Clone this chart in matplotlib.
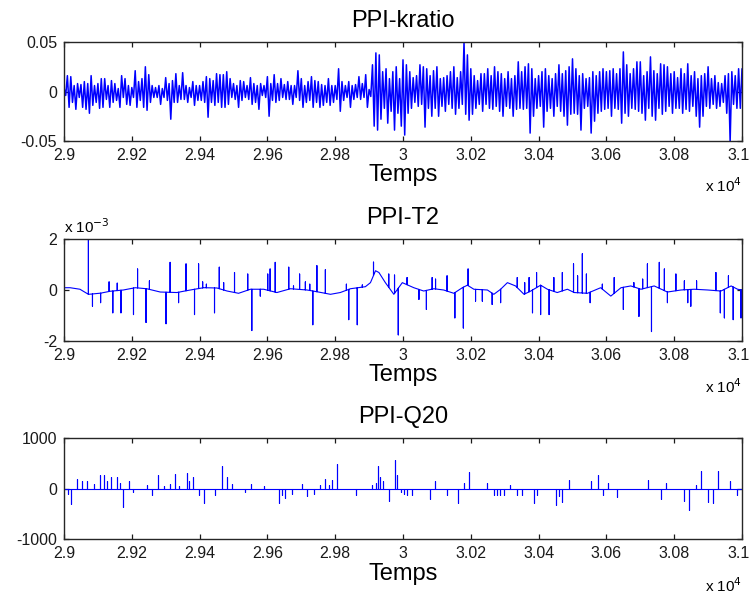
"""
Three stacked MATLAB-style signal panels: PPI-kratio, PPI-T2 and PPI-Q20.
"""

import matplotlib
matplotlib.use("Agg")
import matplotlib.pyplot as plt
import matplotlib.ticker as mticker
import matplotlib.transforms as mtransforms
import numpy as np

plt.rcParams["font.family"] = ["Liberation Sans", "DejaVu Sans"]

T_START, T_END = 29000, 31000

# --- PPI-kratio: per-10-sample high/low excursions (units of 1e-3) ---
kratio_step = 10
kratio_hi = [
    4, 16, 15, 6, 8, 7, 10, 8, 16, 6,
    8, 13, 13, 6, 11, 8, 3, 16, 13, 6,
    4, 21, 10, 13, 25, 17, 6, 4, 6, 3,
    14, 8, 11, 18, 6, 19, 6, 4, 10, 6,
    6, 10, 15, 13, 11, 18, 17, 17, 20, 13,
    8, 6, 11, 10, 6, 14, 8, 6, 8, 6,
    15, 8, 17, 8, 13, 7, 10, 6, 6, 21,
    13, 6, 10, 15, 11, 10, 7, 6, 13, 6,
    6, 23, 10, 6, 10, 6, 7, 15, 8, 17,
    2, 27, 39, 37, 20, 23, 13, 20, 25, 13,
    32, 27, 20, 14, 16, 27, 25, 23, 16, 21,
    25, 13, 14, 16, 20, 25, 14, 20, 50, 37,
    23, 16, 11, 18, 18, 23, 16, 25, 20, 18,
    13, 20, 13, 16, 30, 20, 25, 28, 23, 13,
    16, 20, 23, 16, 13, 18, 27, 18, 21, 25,
    33, 23, 16, 18, 13, 14, 20, 16, 20, 23,
    20, 21, 23, 18, 23, 40, 27, 18, 23, 30,
    30, 16, 20, 35, 21, 18, 28, 27, 25, 18,
    20, 14, 23, 18, 28, 16, 20, 13, 16, 18,
    25, 13, 16, 9, 8, 16, 18, 20, 16, 23,
    23,
]
kratio_lo = [
    -4, -16, -11, -18, -6, -16, -18, -22, -14, -11,
    -17, -16, -8, -16, -11, -9, -16, -6, -13, -14,
    -6, -16, -9, -16, -19, -11, -6, -6, -13, -6,
    -9, -28, -11, -11, -8, -8, -11, -6, -14, -9,
    -9, -11, -26, -11, -14, -11, -16, -16, -13, -6,
    -8, -16, -9, -6, -8, -13, -11, -18, -4, -6,
    -25, -9, -11, -9, -6, -8, -8, -13, -6, -9,
    -16, -11, -9, -16, -11, -16, -14, -11, -14, -11,
    -8, -20, -9, -6, -16, -8, -6, -8, -6, -16,
    -5, -35, -39, -28, -17, -32, -20, -39, -22, -35,
    -44, -22, -17, -11, -15, -13, -36, -17, -25, -17,
    -25, -15, -20, -13, -17, -23, -17, -13, -23, -29,
    -23, -17, -13, -20, -13, -17, -18, -15, -20, -25,
    -15, -17, -25, -18, -17, -18, -17, -42, -25, -17,
    -15, -36, -20, -17, -25, -15, -20, -25, -34, -23,
    -22, -23, -39, -17, -15, -42, -30, -22, -20, -18,
    -17, -25, -17, -18, -32, -22, -25, -17, -18, -20,
    -22, -29, -17, -25, -29, -17, -23, -20, -15, -22,
    -17, -17, -22, -18, -20, -15, -25, -36, -25, -15,
    -17, -13, -17, -15, -11, -22, -51, -13, -17, -17,
    -6,
]

# --- PPI-T2 (units of 1e-3): slow baseline plus spikes ---
t2_base_t = [29000, 29018, 29047, 29072, 29106, 29136, 29175, 29210, 29244,
             29284, 29333, 29372, 29412, 29451, 29481, 29515, 29550, 29589,
             29628, 29668, 29717, 29751, 29786, 29815, 29845, 29889, 29904,
             29919, 29929, 29948, 29973, 29998, 30032, 30061, 30091, 30120,
             30150, 30175, 30190, 30209, 30249, 30268, 30288, 30308, 30332,
             30357, 30377, 30406, 30426, 30455, 30485, 30505, 30544, 30583,
             30613, 30643, 30672, 30702, 30741, 30780, 30820, 30859, 30899,
             30938, 30968, 30987, 31000]
t2_base_v = [0.09, 0.09, 0.03, -0.17, -0.13, -0.05, 0.0, 0.09, 0.05,
             -0.08, -0.10, 0.0, 0.09, 0.08, -0.04, -0.13, 0.03, 0.03,
             -0.10, 0.05, 0.0, -0.08, -0.17, -0.10, 0.05, 0.13, 0.29,
             0.76, 0.69, 0.29, -0.17, 0.29, 0.09, -0.04, 0.05, 0.0,
             -0.13, 0.09, 0.19, 0.03, 0.0, -0.17, 0.03, 0.29, 0.16,
             -0.17, -0.04, 0.19, 0.03, -0.10, 0.03, -0.10, -0.13, 0.09,
             -0.24, 0.09, 0.16, 0.03, 0.16, -0.08, 0.0, 0.03, 0.0,
             -0.04, 0.16, 0.03, 0.0]
t2_spike_t = [29072, 29084, 29108, 29133, 29144, 29157, 29168, 29205, 29217,
              29242, 29252, 29301, 29313, 29338, 29360, 29385, 29397, 29409,
              29420, 29444, 29458, 29471, 29503, 29542, 29554, 29579, 29601,
              29608, 29623, 29663, 29677, 29695, 29712, 29725, 29734, 29746,
              29771, 29833, 29840, 29865, 29880, 29913, 29958, 29975, 29986,
              30012, 30047, 30069, 30086, 30096, 30130, 30153, 30178, 30192,
              30214, 30234, 30263, 30288, 30337, 30359, 30372, 30382, 30394,
              30406, 30431, 30445, 30470, 30503, 30515, 30529, 30541, 30552,
              30588, 30623, 30650, 30681, 30696, 30707, 30721, 30733, 30756,
              30771, 30780, 30805, 30830, 30840, 30849, 30866, 30923, 30936,
              30948, 30960, 30974, 30997]
t2_spike_v = [2.05, -0.64, -0.5, 0.32, -0.9, 0.27, -0.9, -0.97, 0.83,
              -1.28, 0.36, -1.33, 1.09, -0.5, 1.03, -0.97, 1.03, 0.32,
              0.23, -0.9, 0.9, 0.29, 0.69, 0.63, -1.6, -0.24, 0.63,
              0.83, 1.09, 0.9, 0.16, 0.63, 0.32, 0.23, -1.37, 0.96,
              0.8, 0.23, -1.17, -1.37, 0.2, 1.1, 0.63, 0.59, -1.77,
              0.49, -0.37, -0.77, 0.49, 0.43, 0.56, -1.1, -1.5, 0.83,
              -0.44, -0.44, -0.57, -0.5, 0.49, 0.29, 0.49, -0.9, 0.69,
              -0.97, -0.97, 0.49, 0.69, 1.03, 0.56, 1.43, 0.63, -0.5,
              0.23, 0.49, -0.77, 0.29, -1.04, 0.43, 1.03, -1.64, 1.09,
              0.83, -0.5, 0.63, 0.36, -0.5, -0.64, 0.36, 0.69, -0.9,
              -1.1, 0.56, -1.17, -1.1]

# --- PPI-Q20: flat baseline plus spikes ---
q20_base_t = [29000, 31000]
q20_base_v = [0, 0]
q20_spike_t = [29012, 29020, 29039, 29054, 29069, 29089, 29106, 29118, 29128,
               29140, 29156, 29166, 29175, 29191, 29204, 29244, 29259, 29276,
               29294, 29313, 29328, 29340, 29362, 29370, 29380, 29398, 29412,
               29446, 29466, 29481, 29496, 29535, 29551, 29590, 29633, 29643,
               29653, 29673, 29702, 29717, 29737, 29756, 29771, 29781, 29791,
               29806, 29860, 29909, 29919, 29926, 29932, 29941, 29958, 29975,
               29981, 29993, 30003, 30012, 30027, 30079, 30094, 30129, 30162,
               30180, 30196, 30249, 30267, 30277, 30286, 30298, 30316, 30335,
               30352, 30385, 30395, 30451, 30459, 30470, 30490, 30554, 30574,
               30591, 30605, 30631, 30724, 30761, 30776, 30830, 30845, 30865,
               30879, 30899, 30914, 30928, 30966, 30985]
q20_spike_v = [-100, -300, 200, 145, 145, 100, 264, 264, 145,
               231, 231, 119, -363, 145, -66, 79, -119, 264,
               53, 92, 297, 50, 317, 145, 231, -132, -277,
               -132, 442, 231, 99, -66, 99, 50, -277, -132,
               -185, -99, 99, -145, -99, 79, 200, 80, 165,
               495, -119, 66, 119, 449, 231, 145, -251, 574,
               264, -66, -99, -119, -119, -211, 145, -132, -277,
               119, 330, 119, -119, -119, -119, -119, 79, -119,
               -119, -277, -132, -317, -145, -264, 165, 145, 264,
               -132, 119, -165, 165, -198, 119, -251, -429, 79,
               343, -264, -277, 343, 145, -132]

BLUE = "#0000ff"


def _spiky_series(base_t, base_v, spike_t, spike_v):
    """Merge a baseline with vertical spikes rising from it."""
    base_t = np.asarray(base_t, dtype=float)
    base_v = np.asarray(base_v, dtype=float)
    spike_t = np.asarray(spike_t, dtype=float)
    foot = np.interp(spike_t, base_t, base_v)
    t = np.concatenate([base_t, np.repeat(spike_t, 3)])
    v = np.concatenate([base_v, np.column_stack([foot, spike_v, foot]).ravel()])
    order_key = np.concatenate([np.zeros(len(base_t)), np.tile([1, 2, 3], len(spike_t))])
    idx = np.lexsort((order_key, t))
    return t[idx], v[idx]


def _style(ax, ylim, yticks, title):
    ax.set_xlim(T_START, T_END)
    ax.set_ylim(*ylim)
    ax.set_xticks(np.arange(T_START, T_END + 1, 200))
    ax.xaxis.set_major_formatter(mticker.FuncFormatter(lambda x, p: f"{x / 1e4:g}"))
    ax.set_yticks(yticks)
    ax.yaxis.set_major_formatter(mticker.FuncFormatter(lambda y, p: f"{y:g}"))
    ax.tick_params(direction="in", top=True, right=True, length=3.8, width=0.9,
                   labelsize=11.5, colors="#1a1a1a")
    ax.tick_params(axis="x", pad=5)
    ax.tick_params(axis="y", pad=5)
    for s in ax.spines.values():
        s.set_linewidth(1.0)
        s.set_color("#262626")
    ax.set_title(title, fontsize=17, pad=11)
    ax.set_xlabel("Temps", fontsize=17, labelpad=1)
    ax.text(1.0, -0.52, r"x 10$^{4}$", transform=ax.transAxes, ha="right",
            va="baseline", fontsize=11)
    # keep the last tick label ("3.1") inside the figure edge
    last = ax.xaxis.get_major_ticks()[-1].label1
    last.set_transform(last.get_transform() + mtransforms.ScaledTranslation(
        -2.5 / 72, 0, ax.figure.dpi_scale_trans))


fig = plt.figure(figsize=(7.51, 5.98), dpi=100)
left, width = 64 / 751, 678 / 751
ax1 = fig.add_axes([left, 1 - 141 / 598, width, 99 / 598])
ax2 = fig.add_axes([left, 1 - 340.7 / 598, width, 101.4 / 598])
ax3 = fig.add_axes([left, 1 - 539.3 / 598, width, 101 / 598])

# kratio: each step's high drawn at the step start, its low half a step later
kt = T_START + kratio_step * np.arange(len(kratio_hi))
kx = np.column_stack([kt, kt + kratio_step / 2]).ravel()
ky = np.column_stack([kratio_hi, kratio_lo]).ravel() * 1e-3
ax1.plot(kx, ky, color=BLUE, linewidth=1.1)
_style(ax1, (-0.05, 0.05), [-0.05, 0, 0.05], "PPI-kratio")

tx, ty = _spiky_series(t2_base_t, t2_base_v, t2_spike_t, t2_spike_v)
ax2.plot(tx, ty, color=BLUE, linewidth=0.8)
_style(ax2, (-2, 2), [-2, 0, 2], "PPI-T2")
ax2.text(0.0, 1.06, r"x 10$^{-3}$", transform=ax2.transAxes, ha="left",
         va="baseline", fontsize=11)

qx, qy = _spiky_series(q20_base_t, q20_base_v, q20_spike_t, q20_spike_v)
ax3.plot(qx, qy, color=BLUE, linewidth=0.8)
_style(ax3, (-1000, 1000), [-1000, 0, 1000], "PPI-Q20")

fig.savefig("out.png", dpi=100)
